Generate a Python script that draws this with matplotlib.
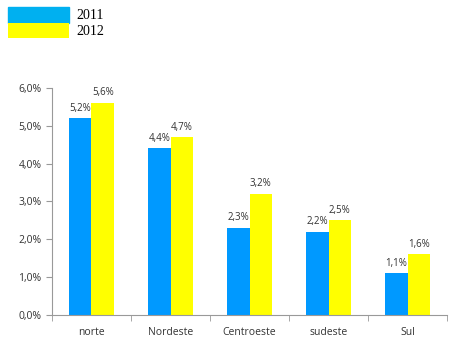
import numpy as np
import matplotlib
matplotlib.use("Agg")
import matplotlib.pyplot as plt
from matplotlib.ticker import FuncFormatter

regioes = ["norte", "Nordeste", "Centroeste", "sudeste", "Sul"]
v2011 = [5.2, 4.4, 2.3, 2.2, 1.1]
v2012 = [5.6, 4.7, 3.2, 2.5, 1.6]

plt.rcParams["font.family"] = ["Open Sans", "DejaVu Sans"]

fig = plt.figure(figsize=(4.6, 3.46), dpi=100)
ax = fig.add_axes([0.113, 0.09, 0.859, 0.656])

x = np.arange(len(regioes))
w = 0.285
b1 = ax.bar(x - w / 2, v2011, w, color="#0099FF", label="2011")
b2 = ax.bar(x + w / 2, v2012, w, color="#FFFF00", label="2012")

fmt = lambda v: ("%.1f%%" % v).replace(".", ",")
for bars, vals in [(b1, v2011), (b2, v2012)]:
    for r, v in zip(bars, vals):
        ax.text(r.get_x() + r.get_width() / 2, v + 0.12, fmt(v),
                ha="center", va="bottom", fontsize=7, color="#333333")

ax.set_ylim(0, 6)
ax.set_xlim(-0.5, len(regioes) - 0.5)
ax.set_yticks(np.arange(0, 7, 1))
ax.yaxis.set_major_formatter(FuncFormatter(lambda v, p: fmt(v)))
ax.set_xticks(x)
ax.set_xticklabels(regioes)
ax.set_xticks(np.arange(-0.5, len(regioes), 1), minor=True)
ax.tick_params(axis="x", which="major", length=0, pad=9, labelsize=7.5, colors="#333333")
ax.tick_params(axis="x", which="minor", length=4, color="#999999")
ax.tick_params(axis="y", length=4, color="#999999", labelsize=7.5, labelcolor="#333333")
for s in ["top", "right"]:
    ax.spines[s].set_visible(False)
for s in ["left", "bottom"]:
    ax.spines[s].set_color("#999999")

# legenda no canto superior esquerdo
leg = fig.legend(handles=[b1, b2], loc="upper left", bbox_to_anchor=(0.017, 0.98),
                 frameon=False, handlelength=4.4, handleheight=1.37,
                 labelspacing=0, handletextpad=0.5, borderpad=0, borderaxespad=0,
                 prop={"family": "Liberation Serif", "size": 10})
leg.legend_handles[0].set_color("#00B0F0")

fig.savefig("out.png", dpi=100)
